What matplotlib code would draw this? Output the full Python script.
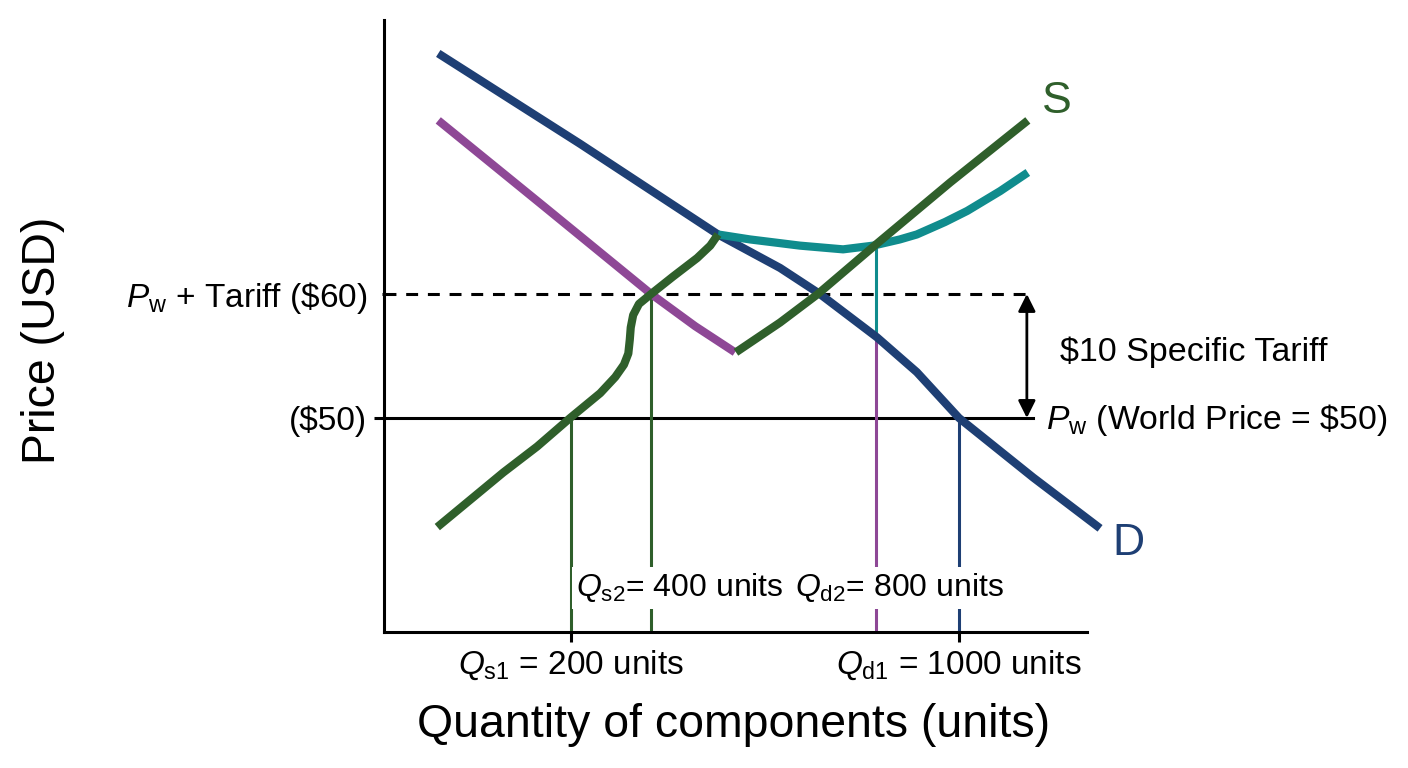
import matplotlib
matplotlib.use("Agg")
import matplotlib.pyplot as plt

plt.rcParams['font.family'] = ['Liberation Sans', 'DejaVu Sans']
plt.rcParams['mathtext.fontset'] = 'custom'
plt.rcParams['mathtext.rm'] = 'Liberation Sans'
plt.rcParams['mathtext.it'] = 'Liberation Sans:italic'

# prices (USD)
world_price = 50
tariff_price = 60

# quantities marked on the chart
qs1, qs2, qd2, qd1 = 200, 365, 829, 1000

# demand curve D
demand_q = [-74, 219, 503, 631, 713, 831, 913, 1000, 1153, 1291]
demand_p = [79.4, 72.1, 64.8, 62.1, 60.0, 56.5, 53.7, 50.0, 45.2, 41.1]

# domestic supply S, lower piece (with the kink near the tariff price)
supply_low_q = [-76, 60, 130, 198, 260, 291, 309, 318, 321, 323, 328, 340, 365, 410, 460, 487, 503]
supply_low_p = [41.2, 45.6, 47.7, 50.0, 52.0, 53.3, 54.3, 55.2, 56.3, 57.3, 58.3, 59.2, 60.0, 61.4, 62.9, 63.9, 64.8]

# supply S, upper piece
supply_up_q = [540, 631, 709, 829, 982, 1142]
supply_up_p = [55.3, 57.7, 60.0, 64.0, 69.0, 74.0]

# shifted demand (magenta)
demand2_q = [-74, 146, 365, 456, 538]
demand2_p = [74.0, 67.0, 60.0, 57.4, 55.3]

# teal curve
teal_q = [503, 569, 631, 672, 761, 823, 878, 913, 971, 1017, 1085, 1142]
teal_p = [64.8, 64.4, 64.1, 63.9, 63.6, 63.9, 64.4, 64.8, 65.8, 66.7, 68.3, 69.8]

NAVY = '#1e3f74'
GREEN = '#2f5f2b'
MAGENTA = '#8e4896'
TEAL = '#108c8d'

fig = plt.figure(figsize=(14.08, 7.68), dpi=100)
ax = fig.add_axes([0.2727, 0.1771, 0.4993, 0.7969])
ax.set_xlim(-186, 1264)
ax.set_ylim(32.74, 82.1)

line_end = 1153
ax.plot([-186, line_end], [world_price, world_price], color='black', lw=2.2, zorder=1)
ax.plot([-186, line_end], [tariff_price, tariff_price], color='black', lw=2.2,
        dashes=(3.9, 3.2), zorder=1)

# vertical drop lines
bottom = 32.74
ax.plot([qs1, qs1], [world_price, bottom], color=GREEN, lw=2.2, zorder=2)
ax.plot([qs2, qs2], [tariff_price, bottom], color=GREEN, lw=2.2, zorder=2)
ax.plot([qd2, qd2], [63.9, 56.5], color=TEAL, lw=2.2, zorder=2)
ax.plot([qd2, qd2], [56.5, bottom], color=MAGENTA, lw=2.2, zorder=2)
ax.plot([qd1, qd1], [world_price, bottom], color=NAVY, lw=2.2, zorder=2)

curve_kw = dict(lw=5.9, solid_capstyle='butt', solid_joinstyle='round', clip_on=False)
ax.plot(demand2_q, demand2_p, color=MAGENTA, zorder=3, **curve_kw)
ax.plot(demand_q, demand_p, color=NAVY, zorder=4, **curve_kw)
ax.plot(teal_q, teal_p, color=TEAL, zorder=5, **curve_kw)
ax.plot(supply_low_q, supply_low_p, color=GREEN, zorder=6, **curve_kw)
ax.plot(supply_up_q, supply_up_p, color=GREEN, zorder=6, **curve_kw)

# tariff arrow
ax.annotate('', xy=(1140, world_price), xytext=(1140, tariff_price),
            arrowprops=dict(arrowstyle='<|-|>', color='black', lw=2.0,
                            mutation_scale=26, shrinkA=0, shrinkB=0))

ax.spines['top'].set_visible(False)
ax.spines['right'].set_visible(False)
ax.spines['left'].set_linewidth(2.2)
ax.spines['bottom'].set_linewidth(2.2)

ax.set_yticks([world_price, tariff_price])
ax.set_yticklabels(['($50)', r'$\mathit{P}_{\mathrm{w}}$ + Tariff (\$60)'])
ax.set_xticks([qs1, qd1])
ax.set_xticklabels([r'$\mathit{Q}_{\mathrm{s1}}$ = 200 units',
                    r'$\mathit{Q}_{\mathrm{d1}}$ = 1000 units'])
ax.tick_params(axis='both', direction='out', length=7.2, width=2.2, labelsize=24)
ax.tick_params(axis='y', pad=5)
ax.tick_params(axis='x', pad=5)
ax.yaxis.get_major_ticks()[1].tick1line.set_markersize(1.5)

box = dict(boxstyle='square,pad=0.15', facecolor='white', edgecolor='none')
ax.text(211, 36.3, r'$\mathit{Q}_{\mathrm{s2}}$= 400 units', fontsize=23,
        ha='left', va='center', bbox=box, zorder=7)
ax.text(661, 36.3, r'$\mathit{Q}_{\mathrm{d2}}$= 800 units', fontsize=23,
        ha='left', va='center', bbox=box, zorder=7)

ax.text(1208, 55.3, '$10 Specific Tariff', fontsize=24.5, ha='left', va='center',
        clip_on=False)
ax.text(1179, 49.8, r'$\mathit{P}_{\mathrm{w}}$ (World Price = \$50)', fontsize=24.3,
        ha='left', va='center', clip_on=False)
ax.text(1171, 75.5, 'S', fontsize=32, color=GREEN, ha='left', va='center', clip_on=False)
ax.text(1317, 39.9, 'D', fontsize=32, color=NAVY, ha='left', va='center', clip_on=False)

fig.text(0.0305, 0.557, 'Price (USD)', fontsize=33.4, rotation=90, ha='center', va='center')
fig.text(0.5213, 0.056, 'Quantity of components (units)', fontsize=33.4, ha='center', va='center')

fig.savefig('out.png', dpi=100)
